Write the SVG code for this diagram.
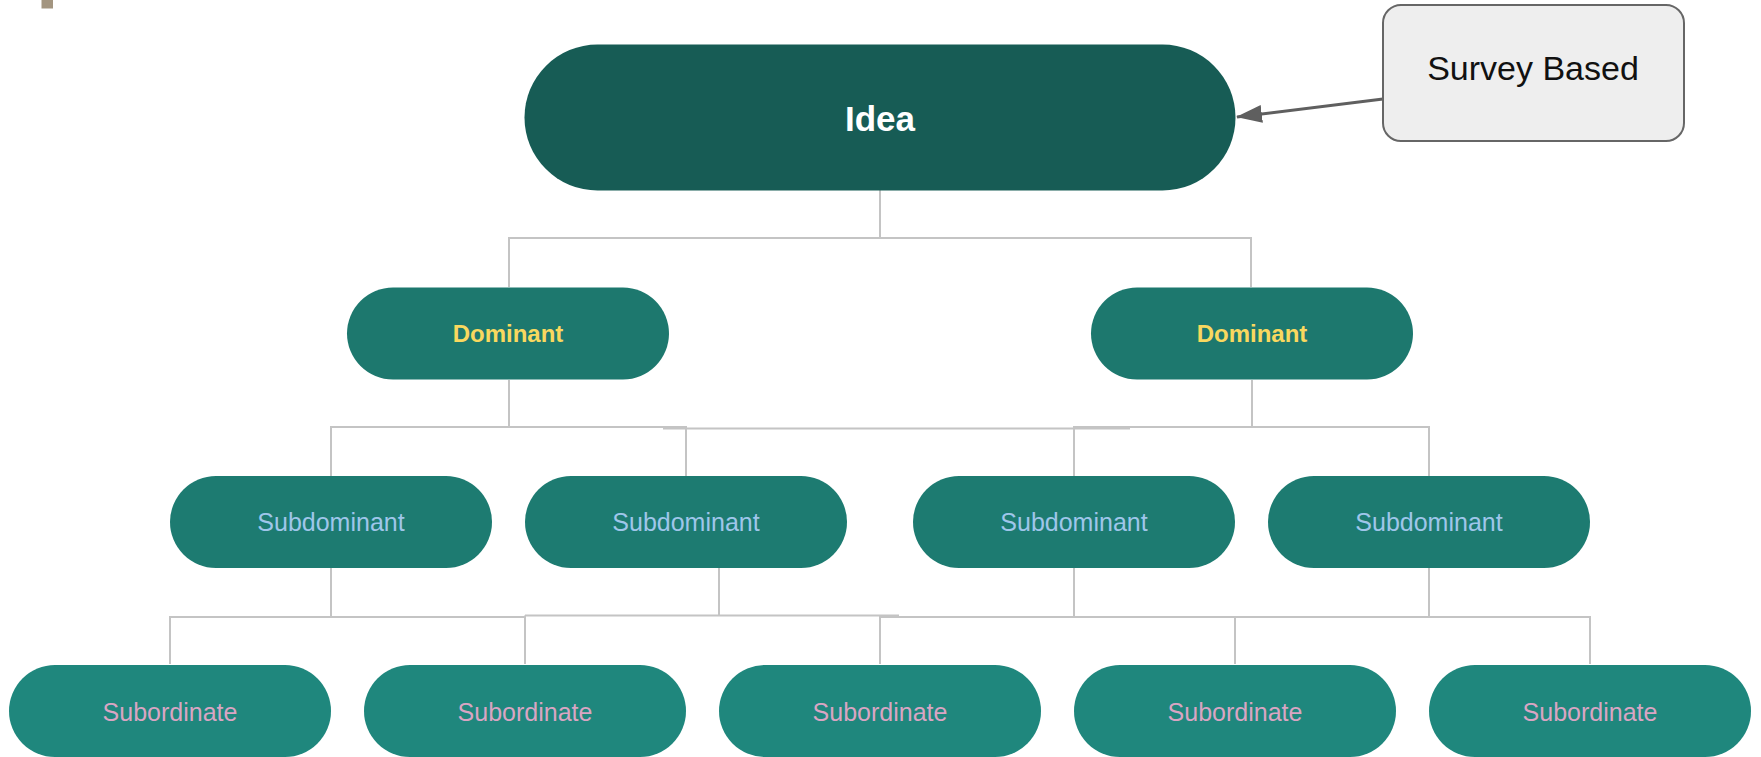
<svg xmlns="http://www.w3.org/2000/svg" width="1761" height="757" viewBox="0 0 1761 757">
<style>
.conn{fill:none;stroke:#c4c4c4;stroke-width:2}
.t{font-family:"Liberation Sans",Arial,sans-serif;text-anchor:middle}
.dom rect{fill:#1d786e}
.sub rect{fill:#1d7b71}
.subo rect{fill:#1f877d}
.dt{font-size:24px;font-weight:bold;fill:#f9d85f}
.st{font-size:25px;fill:#9fc6ea}
.ot{font-size:25px;fill:#d9a5c3}
</style>
<defs>
<marker id="ah" markerWidth="26" markerHeight="18" refX="25" refY="9" orient="auto" markerUnits="userSpaceOnUse">
<path d="M0,0 L26,9 L0,18 Z" fill="#5f5f5f"/>
</marker>
</defs>
<rect width="1761" height="757" fill="#ffffff"/>
<rect x="41.5" y="0" width="11.5" height="8.5" fill="#a39580"/>
<g id="connectors">
<path class="conn" d="M880 190 V238 M509 287 V238 H1251 V287"/>
<path class="conn" d="M509 380 V427 M331 476 V427 H686 V476 M663 428.5 H1130 M1252 380 V427 M1074 476 V427 H1429 V476"/>
<path class="conn" d="M331 568 V617 M170 664 V617 H525 M525 664 V615.5 M719 568 V615.5 H525 M719 615.5 H899 M880 664 V617 H1590 V664 M1074 568 V617 M1235 664 V617 M1429 568 V617"/>
<line x1="1383" y1="99" x2="1237" y2="117" stroke="#5f5f5f" stroke-width="3" marker-end="url(#ah)"/>
</g>
<g id="idea">
<rect x="524.5" y="44.5" width="711" height="146" rx="73" fill="#175c55"/>
<text class="t" x="880" y="131" font-size="35" font-weight="bold" fill="#ffffff">Idea</text>
</g>
<g id="survey">
<rect x="1383" y="5" width="301" height="136" rx="18" fill="#eeeeee" stroke="#666666" stroke-width="2"/>
<text class="t" x="1533" y="80" font-size="34" fill="#111111">Survey Based</text>
</g>
<g id="dom1" class="dom"><rect x="347" y="287.5" width="322" height="92" rx="46"/><text class="t dt" x="508" y="342">Dominant</text></g>
<g id="dom2" class="dom"><rect x="1091" y="287.5" width="322" height="92" rx="46"/><text class="t dt" x="1252" y="342">Dominant</text></g>
<g id="sub1" class="sub"><rect x="170" y="476" width="322" height="92" rx="46"/><text class="t st" x="331" y="531">Subdominant</text></g>
<g id="sub2" class="sub"><rect x="525" y="476" width="322" height="92" rx="46"/><text class="t st" x="686" y="531">Subdominant</text></g>
<g id="sub3" class="sub"><rect x="913" y="476" width="322" height="92" rx="46"/><text class="t st" x="1074" y="531">Subdominant</text></g>
<g id="sub4" class="sub"><rect x="1268" y="476" width="322" height="92" rx="46"/><text class="t st" x="1429" y="531">Subdominant</text></g>
<g id="subo1" class="subo"><rect x="9" y="665" width="322" height="92" rx="46"/><text class="t ot" x="170" y="720.5">Subordinate</text></g>
<g id="subo2" class="subo"><rect x="364" y="665" width="322" height="92" rx="46"/><text class="t ot" x="525" y="720.5">Subordinate</text></g>
<g id="subo3" class="subo"><rect x="719" y="665" width="322" height="92" rx="46"/><text class="t ot" x="880" y="720.5">Subordinate</text></g>
<g id="subo4" class="subo"><rect x="1074" y="665" width="322" height="92" rx="46"/><text class="t ot" x="1235" y="720.5">Subordinate</text></g>
<g id="subo5" class="subo"><rect x="1429" y="665" width="322" height="92" rx="46"/><text class="t ot" x="1590" y="720.5">Subordinate</text></g>
</svg>
